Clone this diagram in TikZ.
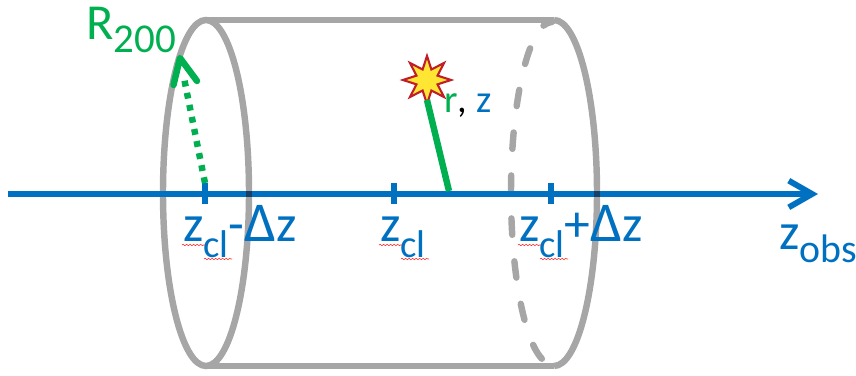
\documentclass[tikz,border=0pt]{standalone}
\usepackage{fontspec}
\setmainfont{Carlito}
\usetikzlibrary{
  shapes.geometric,
  arrows.meta,
  decorations.pathmorphing
}
\definecolor{axiscolor}{RGB}{0, 112, 192}
\definecolor{radiuscolor}{RGB}{0, 176, 80}
\definecolor{cylindercolor}{RGB}{166, 166, 166}
\definecolor{overlapcolor}{RGB}{20, 65, 105}
\definecolor{starfill}{RGB}{255, 230, 50}
\definecolor{staredge}{RGB}{192, 30, 40}
\newcommand{\bigsize}{\fontsize{44}{44}\selectfont}
\newcommand{\subsize}{\fontsize{33}{33}\selectfont}
\newcommand{\lowcl}{\raisebox{-13pt}{\subsize cl}}
\newcommand{\deltaz}{{\fontsize{48}{48}\selectfont Δ}z}
\tikzset{
cylinderline/.style={
  draw=cylindercolor,
  line width=5.5pt
},
hiddenline/.style={
  cylinderline,
  line cap=round,
  dash pattern=on 14pt off 22.7pt
},
axisarrow/.style={
  -{Straight Barb[length=7mm,width=8mm]},
  draw=axiscolor,
  line width=5pt
},
ticktic/.style={
  draw=axiscolor,
  line width=5.5pt
},
ziplabel/.style={
  anchor=base west,
  inner sep=0pt,
  text=axiscolor,
  font=\bigsize
},
squiggle/.style={
  draw=red!80!white,
  line width=0.5pt,
  decorate,
  decoration={snake,amplitude=0.6pt,segment length=3pt}
}
}
\begin{document}
\begin{tikzpicture}[x=0.03cm,y=-0.03cm]
  \useasboundingbox (0,0) rectangle (856,376);

  % cylinder
  \draw[cylinderline] (206,193) ellipse (43 and 173);
  \draw[cylinderline] (206,20) -- (554,20);
  \draw[cylinderline] (206,366) -- (554,366);
  \draw[cylinderline] (554,20) arc (-90:90:43 and 173);
  \draw[hiddenline, dash phase=6pt] (552,22) arc (-90:-270:41 and 171);

  % axis
  \coordinate (zstart) at (8,194);
  \coordinate (zend) at (818,194);
  \draw[axisarrow] (zstart) -- (zend);
  \fill[overlapcolor] (246,191) rectangle (252,197);
  \fill[overlapcolor] (594,191) rectangle (600,197);
  \draw[ticktic] (205,183) -- (205,204);
  \draw[ticktic] (394,183) -- (394,204);
  \draw[ticktic] (551,183) -- (551,204);

  % radius arrow
  \coordinate (rbase) at (205,183);
  \coordinate (rtip) at (180,58);
  \draw[draw=radiuscolor, line width=5.5pt, dash pattern=on 5pt off 5.5pt] (rbase) -- (184,78);
  \draw[draw=radiuscolor, line width=5.5pt, line cap=round, line join=round] (173.5,85) -- (rtip) -- (197,81);

  % source
  \node[star, star points=8, star point ratio=2.1, minimum size=41pt, inner sep=0pt,
        fill=starfill, draw=staredge, line width=1.8pt] (source) at (427,80) {};
  \coordinate (sourcefoot) at (449,191);
  \draw[draw=radiuscolor, line width=5.5pt] (427,100) -- (sourcefoot);

  % labels
  \node[anchor=base west, inner sep=0pt, text=radiuscolor, font=\fontsize{43}{43}\selectfont] (rlabel) at (86,40)
    {R\raisebox{-11pt}{\fontsize{35}{35}\selectfont 200}};
  \node[anchor=base west, inner sep=0pt, font=\fontsize{33}{33}\selectfont] (rzlabel) at (444,113)
    {\textcolor{radiuscolor}{r}, \textcolor{axiscolor}{z}};
  \node[ziplabel] (zmin) at (183,242) {z\lowcl-\deltaz};
  \node[ziplabel] (zmid) at (380,242) {z\lowcl};
  \node[ziplabel] (zmax) at (519,242) {z\lowcl+\deltaz};
  \node[ziplabel] (zobs) at (779,250) {z\raisebox{-11pt}{\fontsize{34}{34}\selectfont obs}};

  % spelling marks
  \draw[squiggle] (182,245) -- (205,245);
  \draw[squiggle] (204,259) -- (232,259);
  \draw[squiggle] (379,245) -- (402,245);
  \draw[squiggle] (401,259) -- (429,259);
  \draw[squiggle] (518,245) -- (541,245);
  \draw[squiggle] (540,259) -- (568,259);
\end{tikzpicture}
\end{document}
